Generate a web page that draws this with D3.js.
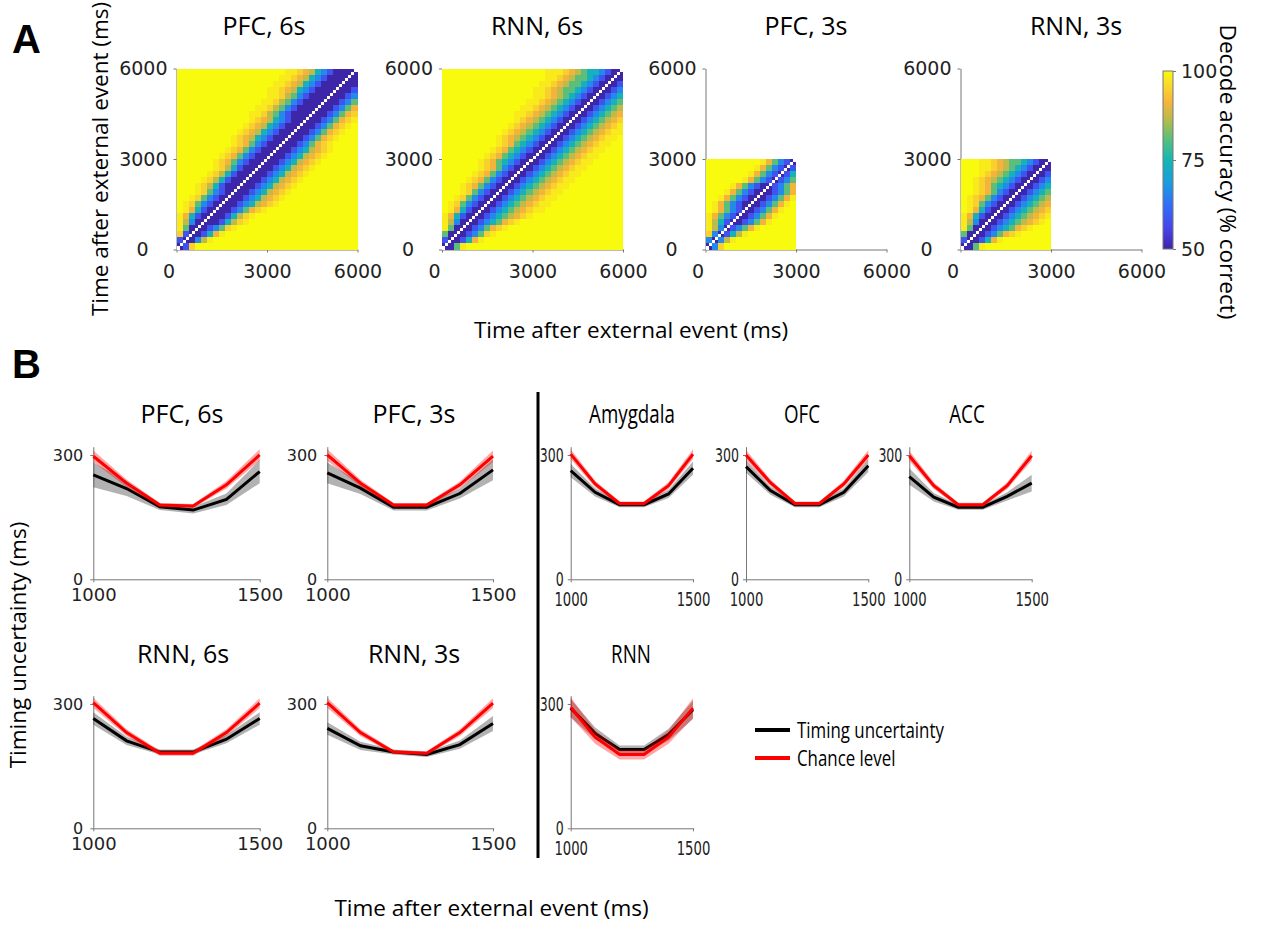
<!DOCTYPE html>
<html>
<head>
<meta charset="utf-8">
<title>decode accuracy / timing uncertainty</title>
<script src="https://cdn.jsdelivr.net/npm/d3@7"></script>
<style>
    body { margin: 0; background: #fff; }
    svg { display: block; }
    .tick text { font-family: "DejaVu Sans"; fill: #222; }
    .domain, .tick line { stroke: #777; }
    .title { font-family: "Open Sans"; font-size: 25px; fill: #000; }
    .label { font-family: "Open Sans"; font-size: 22.5px; fill: #000; }
    .panel { font-family: "Liberation Sans"; font-weight: bold; font-size: 40px; }
    .cell { shape-rendering: crispEdges; }
</style>
</head>
<body>
<svg width="1261" height="932"></svg>
<script>
// ---- panel A: cross-temporal decode accuracy ----
// one character per 200 ms bin, rows top (late) to bottom (early), value = index into accLevels
var accLevels = [50, 58, 66, 74, 81, 87, 91, 95, 98, 100];
var binMs = 200;

var pfc6s = [
    "999999999999999999887653210000",
    "999999999999999998876532100000",
    "999999999999999988765321000000",
    "999999999999999887653210000001",
    "999999999999999887542100000012",
    "999999999999998875421000000124",
    "999999999999988754210000001246",
    "999999999999887542100000012467",
    "999999999999876532100000124678",
    "999999999998765321000001246789",
    "999999999987653210000012467899",
    "999999999876532100000124678999",
    "999999999876421000001246789999",
    "999999998764210000012356789999",
    "999999987642100000123567899999",
    "999999876421000001235678999999",
    "999999875310000012356789999999",
    "999998753100000123567899999999",
    "999987531000001235678999999999",
    "999875310000012356789999999999",
    "999874210000123567899999999999",
    "998742100001235678999999999999",
    "987421000012356789999999999999",
    "986310000124678999999999999999",
    "863100001357899999999999999999",
    "852000013578999999999999999999",
    "840001247899999999999999999999",
    "710013689999999999999999999999",
    "100258999999999999999999999999",
    "017999999999999999999999999999"
];

var rnn6s = [
    "999999999999999998887654332100",
    "999999999999999998876544321000",
    "999999999999999988765443210001",
    "999999999999999887654432100012",
    "999999999999999887654321000123",
    "999999999999998876543210001234",
    "999999999999988765432100012345",
    "999999999999887654321000123456",
    "999999999999876543210001234567",
    "999999999998765432100012345678",
    "999999999987654321000123456788",
    "999999999876543210001234567889",
    "999999999876432100012345678899",
    "999999998764321000123456788999",
    "999999987643210001234567889999",
    "999999876432100012345678899999",
    "999999876421000123456788999999",
    "999998764210001234567889999999",
    "999987642100012345678899999999",
    "999876421000123456788999999999",
    "999874210001234567889999999999",
    "998742100012345678899999999999",
    "987421000123456788999999999999",
    "986310001234567889999999999999",
    "863100012345678999999999999999",
    "852000123467899999999999999999",
    "840001246789999999999999999999",
    "400012478999999999999999999999",
    "100136899999999999999999999999",
    "004899999999999999999999999999"
];

var pfc3s = [
    "999999999864210",
    "999999998642101",
    "999999986421013",
    "999999864210124",
    "999986421001246",
    "999864210001246",
    "998642100012468",
    "986421000124689",
    "986421001246899",
    "864210012468999",
    "853100124689999",
    "852012468999999",
    "720135899999999",
    "202589999999999",
    "027999999999999"
];

var rnn3s = [
    "999887654432100",
    "999887654321000",
    "999876543210001",
    "998765432100012",
    "998764321000123",
    "998764210001234",
    "987642100012345",
    "987421000123456",
    "986310001234567",
    "863100012345678",
    "852000123456789",
    "840001234678999",
    "400012467899999",
    "100136899999999",
    "004899999999999"
];

var mapNames = ["PFC, 6s", "RNN, 6s", "PFC, 3s", "RNN, 3s"];
var mapGrids = [pfc6s, rnn6s, pfc3s, rnn3s];
var mapDurations = [6000, 6000, 3000, 3000];
var mapTicks = [0, 3000, 6000];
var colorTicks = [50, 75, 100];

// ---- panel B: timing uncertainty vs chance ----
var intervals = [1000, 1100, 1200, 1300, 1400, 1500];
var bNames = ["PFC, 6s", "PFC, 3s", "Amygdala", "OFC", "ACC", "RNN, 6s", "RNN, 3s", "RNN"];
var timingUnc = [
    [252, 219, 175, 167, 193, 260],
    [257, 220, 174, 174, 207, 264],
    [262, 210, 180, 180, 206, 268],
    [272, 214, 180, 180, 210, 274],
    [248, 198, 174, 174, 200, 232],
    [265, 211, 184, 184, 215, 265],
    [241, 199, 184, 178, 202, 253],
    [290, 229, 190, 190, 226, 286]
];
var timingSem = [
    [30, 18, 8, 8, 14, 28],
    [25, 14, 8, 8, 12, 25],
    [16, 10, 6, 6, 10, 16],
    [15, 10, 6, 6, 10, 15],
    [20, 10, 6, 6, 10, 20],
    [15, 10, 6, 6, 10, 15],
    [15, 10, 6, 6, 10, 18],
    [22, 14, 10, 10, 14, 22]
];
var chanceLvl = [
    [297, 232, 179, 177, 228, 300],
    [300, 232, 179, 179, 228, 297],
    [302, 230, 183, 183, 226, 302],
    [300, 233, 183, 183, 230, 300],
    [298, 226, 180, 180, 226, 298],
    [303, 231, 181, 181, 231, 302],
    [303, 231, 184, 181, 231, 302],
    [292, 220, 178, 178, 220, 290]
];
var chanceSem = [
    [14, 9, 5, 5, 9, 14],
    [14, 8, 5, 5, 8, 14],
    [12, 8, 5, 5, 8, 12],
    [12, 8, 5, 5, 8, 12],
    [12, 8, 5, 5, 8, 12],
    [12, 8, 6, 6, 8, 12],
    [12, 8, 5, 5, 8, 12],
    [24, 16, 12, 12, 16, 24]
];

// parula-like colormap
var parulaPos = [0, 0.12, 0.25, 0.37, 0.5, 0.62, 0.72, 0.82, 0.9, 1];
var parulaColors = ["#3e26a8", "#4746eb", "#2f6ffa", "#1a9cdf", "#14b6b4", "#5bbf7b", "#b1bd4b", "#f4b43c", "#f9d12f", "#f9fb0e"];
var parula = d3.scaleLinear().domain(parulaPos).range(parulaColors).interpolate(d3.interpolateRgb).clamp(true);
function accColor(a) { return parula((a - 50) / 50); }

var svg = d3.select("svg");
var fmt = d3.format("d");

// ===== A =====
svg.append("text").attr("class", "panel").attr("x", 12).attr("y", 53).text("A");

var mapX = [176.5, 442, 705.5, 960.5];
var mapTitleX = [264, 537, 806, 1076];
var mapTop = 68.5, mapSize = 181;

mapGrids.forEach(function(grid, k) {
    var x = d3.scaleLinear().domain([0, 6000]).range([mapX[k], mapX[k] + mapSize]);
    var y = d3.scaleLinear().domain([0, 6000]).range([mapTop + mapSize, mapTop]);
    var g = svg.append("g");

    var gx = g.append("g")
        .attr("transform", "translate(0," + y(0) + ")")
        .call(d3.axisBottom(x).tickValues(mapTicks).tickFormat(fmt).tickSize(3).tickSizeOuter(0).tickPadding(12));
    gx.selectAll("text").style("font-size", "19px")
        .attr("dx", function(d) { return d === 0 ? -8 : 0; });

    var gy = g.append("g")
        .attr("transform", "translate(" + x(0) + ",0)")
        .call(d3.axisLeft(y).tickValues(mapTicks).tickFormat(fmt).tickSize(3).tickSizeOuter(0).tickPadding(6));
    gy.selectAll("text").style("font-size", "19px")
        .attr("dx", function(d) { return d === 0 ? -19 : 0; });

    var n = grid.length;
    var cells = [];
    grid.forEach(function(row, i) {
        row = row.padEnd(n, "9").slice(0, n);
        row.split("").forEach(function(ch, j) {
            cells.push({ r: i, c: j, acc: accLevels[+ch] });
        });
    });

    var cw = x(binMs) - x(0), chh = y(0) - y(binMs);
    g.selectAll("rect.cell")
        .data(cells)
        .enter()
        .append("rect")
        .attr("class", "cell")
        .attr("x", function(d) { return x(d.c * binMs); })
        .attr("y", function(d) { return y((n - d.r) * binMs); })
        .attr("width", cw + 0.4)
        .attr("height", chh + 0.4)
        .attr("fill", function(d) { return accColor(d.acc); });

    // same-time bins on the diagonal are left blank
    var diag = d3.range(0, mapDurations[k], 100);
    g.selectAll("rect.diag")
        .data(diag)
        .enter()
        .append("rect")
        .attr("class", "cell")
        .attr("x", function(d) { return x(d); })
        .attr("y", function(d) { return y(d + 100); })
        .attr("width", x(100) - x(0))
        .attr("height", y(0) - y(100))
        .attr("fill", "#fff");

    svg.append("text").attr("class", "title")
        .attr("x", mapTitleX[k]).attr("y", 35)
        .attr("text-anchor", "middle")
        .text(mapNames[k]);
});

svg.append("text").attr("class", "label")
    .attr("transform", "translate(108,159) rotate(-90)")
    .attr("text-anchor", "middle")
    .text("Time after external event (ms)");

svg.append("text").attr("class", "label")
    .attr("x", 631).attr("y", 338)
    .attr("text-anchor", "middle")
    .text("Time after external event (ms)");

// colorbar
var grad = svg.append("defs").append("linearGradient")
    .attr("id", "cbar").attr("x1", 0).attr("y1", 1).attr("x2", 0).attr("y2", 0);
grad.selectAll("stop")
    .data(parulaPos)
    .enter()
    .append("stop")
    .attr("offset", function(d) { return d; })
    .attr("stop-color", function(d, i) { return parulaColors[i]; });

var cb = d3.scaleLinear().domain([50, 100]).range([249, 71]);
svg.append("rect")
    .attr("x", 1163).attr("y", cb(100))
    .attr("width", 10).attr("height", cb(50) - cb(100))
    .attr("fill", "url(#cbar)")
    .attr("stroke", "#777").attr("stroke-width", 1);
var gcb = svg.append("g")
    .attr("transform", "translate(1173,0)")
    .call(d3.axisRight(cb).tickValues(colorTicks).tickSize(3).tickSizeOuter(0).tickPadding(5));
gcb.select(".domain").remove();
gcb.selectAll("text").style("font-size", "19px");

svg.append("text").attr("class", "label")
    .attr("transform", "translate(1220,172) rotate(90)")
    .attr("text-anchor", "middle")
    .text("Decode accuracy (% correct)");

// ===== B =====
svg.append("text").attr("class", "panel").attr("x", 12).attr("y", 378).text("B");

var bLeft = [93.3, 327.3, 570.7, 746, 909.3, 93.3, 327.3, 570.7];
var bRight = [259.7, 493, 693, 868.3, 1031.7, 259.7, 493, 693];
var bTitleX = [182, 414, 632, 802, 967, 183, 414, 631];
var bRow = [0, 0, 0, 0, 0, 1, 1, 1];
var rowZero = [579.3, 828.3];
var squeezed = [false, false, true, true, true, false, false, true];
var pxPerMs = 0.4144;

bNames.forEach(function(name, k) {
    var zero = rowZero[bRow[k]];
    var x = d3.scaleLinear().domain([1000, 1500]).range([bLeft[k], bRight[k]]);
    var y = d3.scaleLinear().domain([0, 320]).range([zero, zero - 320 * pxPerMs]);
    var sx = squeezed[k] ? 0.66 : 1;
    var g = svg.append("g");

    var gx = g.append("g")
        .attr("transform", "translate(0," + zero + ")")
        .call(d3.axisBottom(x).tickValues([1000, 1500]).tickFormat(fmt).tickSize(3).tickSizeOuter(0).tickPadding(squeezed[k] ? 10 : 6));
    gx.selectAll("text")
        .style("font-size", squeezed[k] ? "20px" : "18px")
        .attr("transform", "scale(" + sx + ",1)");

    var gy = g.append("g")
        .attr("transform", "translate(" + bLeft[k] + ",0)")
        .call(d3.axisLeft(y).tickValues([0, 300]).tickFormat(fmt).tickSize(3).tickSizeOuter(0).tickPadding(7));
    gy.selectAll("text")
        .style("font-size", squeezed[k] ? "19px" : "16px")
        .attr("x", (squeezed[k] ? -7 : -10) / sx)
        .attr("transform", "scale(" + sx + ",1)");

    var idx = d3.range(intervals.length);
    function band(mean, sem) {
        return d3.area()
            .x(function(i) { return x(intervals[i]); })
            .y0(function(i) { return y(mean[i] - sem[i]); })
            .y1(function(i) { return y(mean[i] + sem[i]); })(idx);
    }
    function line(mean) {
        return d3.line()
            .x(function(i) { return x(intervals[i]); })
            .y(function(i) { return y(mean[i]); })(idx);
    }

    g.append("path").attr("d", band(timingUnc[k], timingSem[k])).attr("fill", "rgba(0,0,0,0.3)");
    g.append("path").attr("d", line(timingUnc[k])).attr("fill", "none").attr("stroke", "#000").attr("stroke-width", 3);
    g.append("path").attr("d", band(chanceLvl[k], chanceSem[k])).attr("fill", "rgba(255,0,0,0.35)");
    g.append("path").attr("d", line(chanceLvl[k])).attr("fill", "none").attr("stroke", "#f00").attr("stroke-width", 3);

    var titleY = bRow[k] === 0 ? 423 : 663;
    svg.append("text").attr("class", "title")
        .attr("transform", "translate(" + bTitleX[k] + "," + titleY + ") scale(" + (squeezed[k] ? 0.75 : 1) + ",1)")
        .attr("text-anchor", "middle")
        .text(name);
});

// divider between recordings of monkeys and other areas
svg.append("line")
    .attr("x1", 538).attr("x2", 538)
    .attr("y1", 392).attr("y2", 858)
    .attr("stroke", "#000").attr("stroke-width", 3);

// legend
var legendItems = ["Timing uncertainty", "Chance level"];
var legendColors = ["#000", "#f00"];
var lg = svg.append("g");
legendItems.forEach(function(t, i) {
    var ly = 730 + i * 28;
    lg.append("line")
        .attr("x1", 755).attr("x2", 790)
        .attr("y1", ly).attr("y2", ly)
        .attr("stroke", legendColors[i]).attr("stroke-width", 4);
    lg.append("text").attr("class", "label")
        .attr("transform", "translate(797," + (ly + 8) + ") scale(0.75,1)")
        .text(t);
});

svg.append("text").attr("class", "label")
    .attr("transform", "translate(26,645) rotate(-90)")
    .attr("text-anchor", "middle")
    .text("Timing uncertainty (ms)");

svg.append("text").attr("class", "label")
    .attr("x", 491.5).attr("y", 916)
    .attr("text-anchor", "middle")
    .text("Time after external event (ms)");
</script>
</body>
</html>
